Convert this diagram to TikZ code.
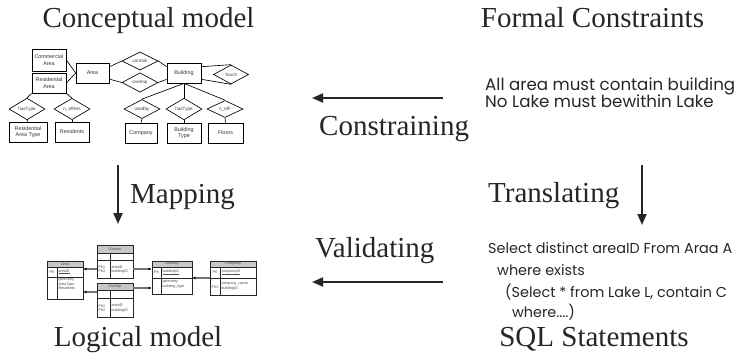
\documentclass[tikz,border=0pt]{standalone}
\usepackage{fontspec}
\setmainfont{Liberation Serif}
\newfontfamily\smallsans{Liberation Sans}
\newfontfamily\geofont{Poppins}
\usetikzlibrary{shapes.geometric,arrows.meta,calc}
\newlength\fcwidth
\newlength\sqwidth
\settowidth\fcwidth{\geofont\fontsize{10}{12}\selectfont All area must contain building}
\settowidth\sqwidth{\geofont\fontsize{10}{12}\selectfont Select distinct areaID From Araa A}
\pgfmathsetmacro\fcsize{10*250/\fcwidth}
\pgfmathsetmacro\sqsize{10*244/\sqwidth}
\begin{document}
\begin{tikzpicture}[x=1pt,y=-1pt,
  title/.style={font=\fontsize{29}{34}\selectfont,inner sep=0pt,anchor=base,text=black!85},
  lbl/.style={font=\fontsize{29}{34}\selectfont,inner sep=0pt,anchor=base west,text=black!85},
  bigarrow/.style={line width=2pt,black!85,-{Triangle[length=11pt,width=9pt]}},
  geo/.style={font=\geofont\fontsize{\fcsize}{18}\selectfont,inner sep=0pt,anchor=base west,text=black!85},
  sql/.style={font=\geofont\fontsize{\sqsize}{16}\selectfont,inner sep=0pt,anchor=base west,text=black!85},
  ent/.style={draw,line width=0.75pt,inner sep=0pt,align=center,font=\smallsans\fontsize{5.4}{6.2}\selectfont,text=black!80},
  rel/.style={draw,diamond,line width=0.65pt,inner sep=0pt,minimum width=36pt,minimum height=18pt,font=\smallsans\fontsize{4.6}{5}\selectfont,text=black!75},
  erl/.style={line width=0.65pt},
  tbl/.style={draw=black!85,line width=0.75pt,inner sep=0pt},
  tline/.style={draw=black!85,line width=0.6pt},
  hdrfill/.style={fill=black!22},
  tt/.style={inner sep=0.3pt,font=\smallsans\fontsize{3.7}{4.3}\selectfont,text=black!70},
  lk/.style={draw=black!55,line width=1.1pt,-{Latex[length=3pt,width=3pt,black]}}
]
\useasboundingbox (0,0) rectangle (737,354);

% ---------- titles ----------
\node[title] (tConc) at (148.5,27) {Conceptual model};
\node[title] (tForm) at (592.5,27) {Formal Constraints};
\node[title] (tLog) at (138,346) {Logical model};
\node[title] (tSQL) at (594,346) {SQL Statements};

\node[lbl] (lCon) at (319,135) {Constraining};
\node[lbl] (lVal) at (315,257) {Validating};
\node[lbl] (lMap) at (130,203) {Mapping};
\node[lbl] (lTra) at (488,202) {Translating};

\coordinate (a1s) at (443,98);  \coordinate (a1e) at (312,98);
\coordinate (a2s) at (443,282); \coordinate (a2e) at (312,282);
\coordinate (a3s) at (118,165); \coordinate (a3e) at (118,224);
\coordinate (a4s) at (642,165); \coordinate (a4e) at (642,225);
\draw[bigarrow] (a1s) -- (a1e);
\draw[bigarrow] (a2s) -- (a2e);
\draw[bigarrow] (a3s) -- (a3e);
\draw[bigarrow] (a4s) -- (a4e);

% ---------- formal constraints ----------
\node[geo] (fc1) at (485,90) {All area must contain building};
\node[geo] (fc2) at (485,107) {No Lake must bewithin Lake};

% ---------- SQL ----------
\node[sql] (s1) at (488,253) {Select distinct areaID From Araa A};
\node[sql] (s2) at (497,275) {where exists};
\node[sql] (s3) at (505,297) {(Select * from Lake L, contain C};
\node[sql] (s4) at (512,317) {where....)};

% ---------- conceptual ER ----------
\node[ent,minimum width=34pt,minimum height=22pt] (eComm) at (49,60) {Commercial\\Area};
\node[ent,minimum width=34pt,minimum height=20pt] (eRes) at (49,83) {Residential\\Area};
\node[ent,minimum width=33pt,minimum height=20pt] (eArea) at (92.5,73) {Area};
\node[rel] (rCont) at (140,61) {contain};
\node[rel] (rOver) at (140,82.5) {overlap};
\node[ent,minimum width=34pt,minimum height=20pt] (eBld) at (184,73) {Building};
\node[rel,minimum width=35pt,minimum height=19pt] (rTouch) at (231,74.5) {Touch};
\node[rel,minimum height=17pt] (rHas1) at (27,109) {hasType};
\node[rel,minimum height=17pt] (rNRes) at (72,109) {n\_ofRes};
\node[rel,minimum height=17pt] (rUsed) at (142,109) {usedby};
\node[rel,minimum height=17pt] (rHas2) at (184,109) {hasType};
\node[rel,minimum height=17pt] (rNF) at (225,109) {n\_ofF};
\node[ent,minimum width=38pt,minimum height=20pt] (eRAT) at (28,132) {Residential\\Area Type};
\node[ent,minimum width=34pt,minimum height=20pt] (eResid) at (72,132) {Residents};
\node[ent,minimum width=32pt,minimum height=20pt] (eComp) at (141,133) {Company};
\node[ent,minimum width=34pt,minimum height=20pt] (eBT) at (184,133) {Building\\Type};
\node[ent,minimum width=35pt,minimum height=20pt] (eFl) at (225.5,133) {Floors};

\draw[erl] (eComm.east) -- (eArea.west);
\draw[erl] (eRes.east) -- (eArea.west);
\draw[erl] (eArea.20) -- (rCont.west);
\draw[erl] (rCont.east) -- (eBld.160);
\draw[erl] (eArea.-20) -- (rOver.west);
\draw[erl] (rOver.east) -- (eBld.200);
\draw[erl] (eBld.20) -- (rTouch.north);
\draw[erl] (eBld.-20) -- (rTouch.south);
\draw[erl] (eRes.south west) -- (rHas1.north);
\draw[erl] (eRes.south east) -- (rNRes.north);
\draw[erl] (eBld.south) -- (rUsed.north);
\draw[erl] (eBld.south) -- (rHas2.north);
\draw[erl] (eBld.south) -- (rNF.north);
\draw[erl] (rHas1.south) -- (eRAT.north);
\draw[erl] (rNRes.south) -- (eResid.north);
\draw[erl] (rUsed.south) -- (eComp.north);
\draw[erl] (rHas2.south) -- (eBT.north);
\draw[erl] (rNF.south) -- (eFl.north);

% ---------- logical model tables ----------
% Area
\fill[hdrfill] (47,261) rectangle (83,267);
\draw[tline] (47,267) -- (83,267) (47,277) -- (83,277) (57,267) -- (57,299);
\node[tbl,minimum width=36pt,minimum height=38pt] (tArea) at (65,280) {};
\node[tt] at (65,264) {Area};
\node[tt] at (52,272) {PK};
\node[tt,anchor=west] at (58,272) {\underline{areaID}};
\node[tt,anchor=north west,align=left] at (58,278) {geometry\\AreaType\\Residents};

% Contain
\fill[hdrfill] (97,245) rectangle (133,253);
\draw[tline] (97,253) -- (133,253) (97,260) -- (133,260) (110,253) -- (110,278);
\node[tbl,minimum width=36pt,minimum height=33pt] (tCont) at (115,261.5) {};
\node[tt] at (115,249) {Contain};
\node[tt,anchor=west,align=left] at (98,269.5) {FK1\\FK2};
\node[tt,anchor=west,align=left] at (111,269.5) {areaID\\buildingID};

% Overlap
\fill[hdrfill] (97,283) rectangle (133,290);
\draw[tline] (97,290) -- (133,290) (97,298) -- (133,298) (110,290) -- (110,317);
\node[tbl,minimum width=36pt,minimum height=34pt] (tOver) at (115,300) {};
\node[tt] at (115,286.5) {Overlap};
\node[tt,anchor=west,align=left] at (98,308) {FK1\\FK2};
\node[tt,anchor=west,align=left] at (111,308) {areaID\\buildingID};

% Building
\fill[hdrfill] (152,261) rectangle (192,267);
\draw[tline] (152,267) -- (192,267) (152,278) -- (192,278) (161,267) -- (161,294);
\node[tbl,minimum width=40pt,minimum height=33pt] (tBld) at (172,277.5) {};
\node[tt] at (172,264) {Building};
\node[tt] at (156.5,272.5) {PK};
\node[tt,anchor=west] at (162,272.5) {\underline{buildingID}};
\node[tt,anchor=north west,align=left] at (162,280) {geometry\\building\_type};

% Company
\fill[hdrfill] (210,261) rectangle (256,267);
\draw[tline] (210,267) -- (256,267) (210,278) -- (256,278) (220,267) -- (220,295);
\node[tbl,minimum width=46pt,minimum height=34pt] (tComp) at (233,278) {};
\node[tt] at (233,264) {Company};
\node[tt] at (215,272.5) {PK};
\node[tt,anchor=west] at (221,272.5) {\underline{companyID}};
\node[tt] at (215,287) {FK1};
\node[tt,anchor=west,align=left] at (221,286.5) {company\_name\\buildingID};

% links
\coordinate (kC1) at ([yshift=-7.5pt]tCont.west);
\coordinate (kC2) at ([yshift=-7.5pt]tCont.east);
\coordinate (kO1) at ([yshift=8pt]tOver.west);
\coordinate (kO2) at ([yshift=12pt]tOver.east);
\draw[lk] (kC1) -- (kC1 -| tArea.east);
\draw[lk] (kO1) -- (kO1 -| tArea.east);
\draw[lk] (kC2) -- (kC2 -| tBld.west);
\draw[lk] (kO2) -- (kO2 -| tBld.west);
\draw[lk] (tComp.west) -- (tComp.west -| tBld.east);
\end{tikzpicture}
\end{document}
